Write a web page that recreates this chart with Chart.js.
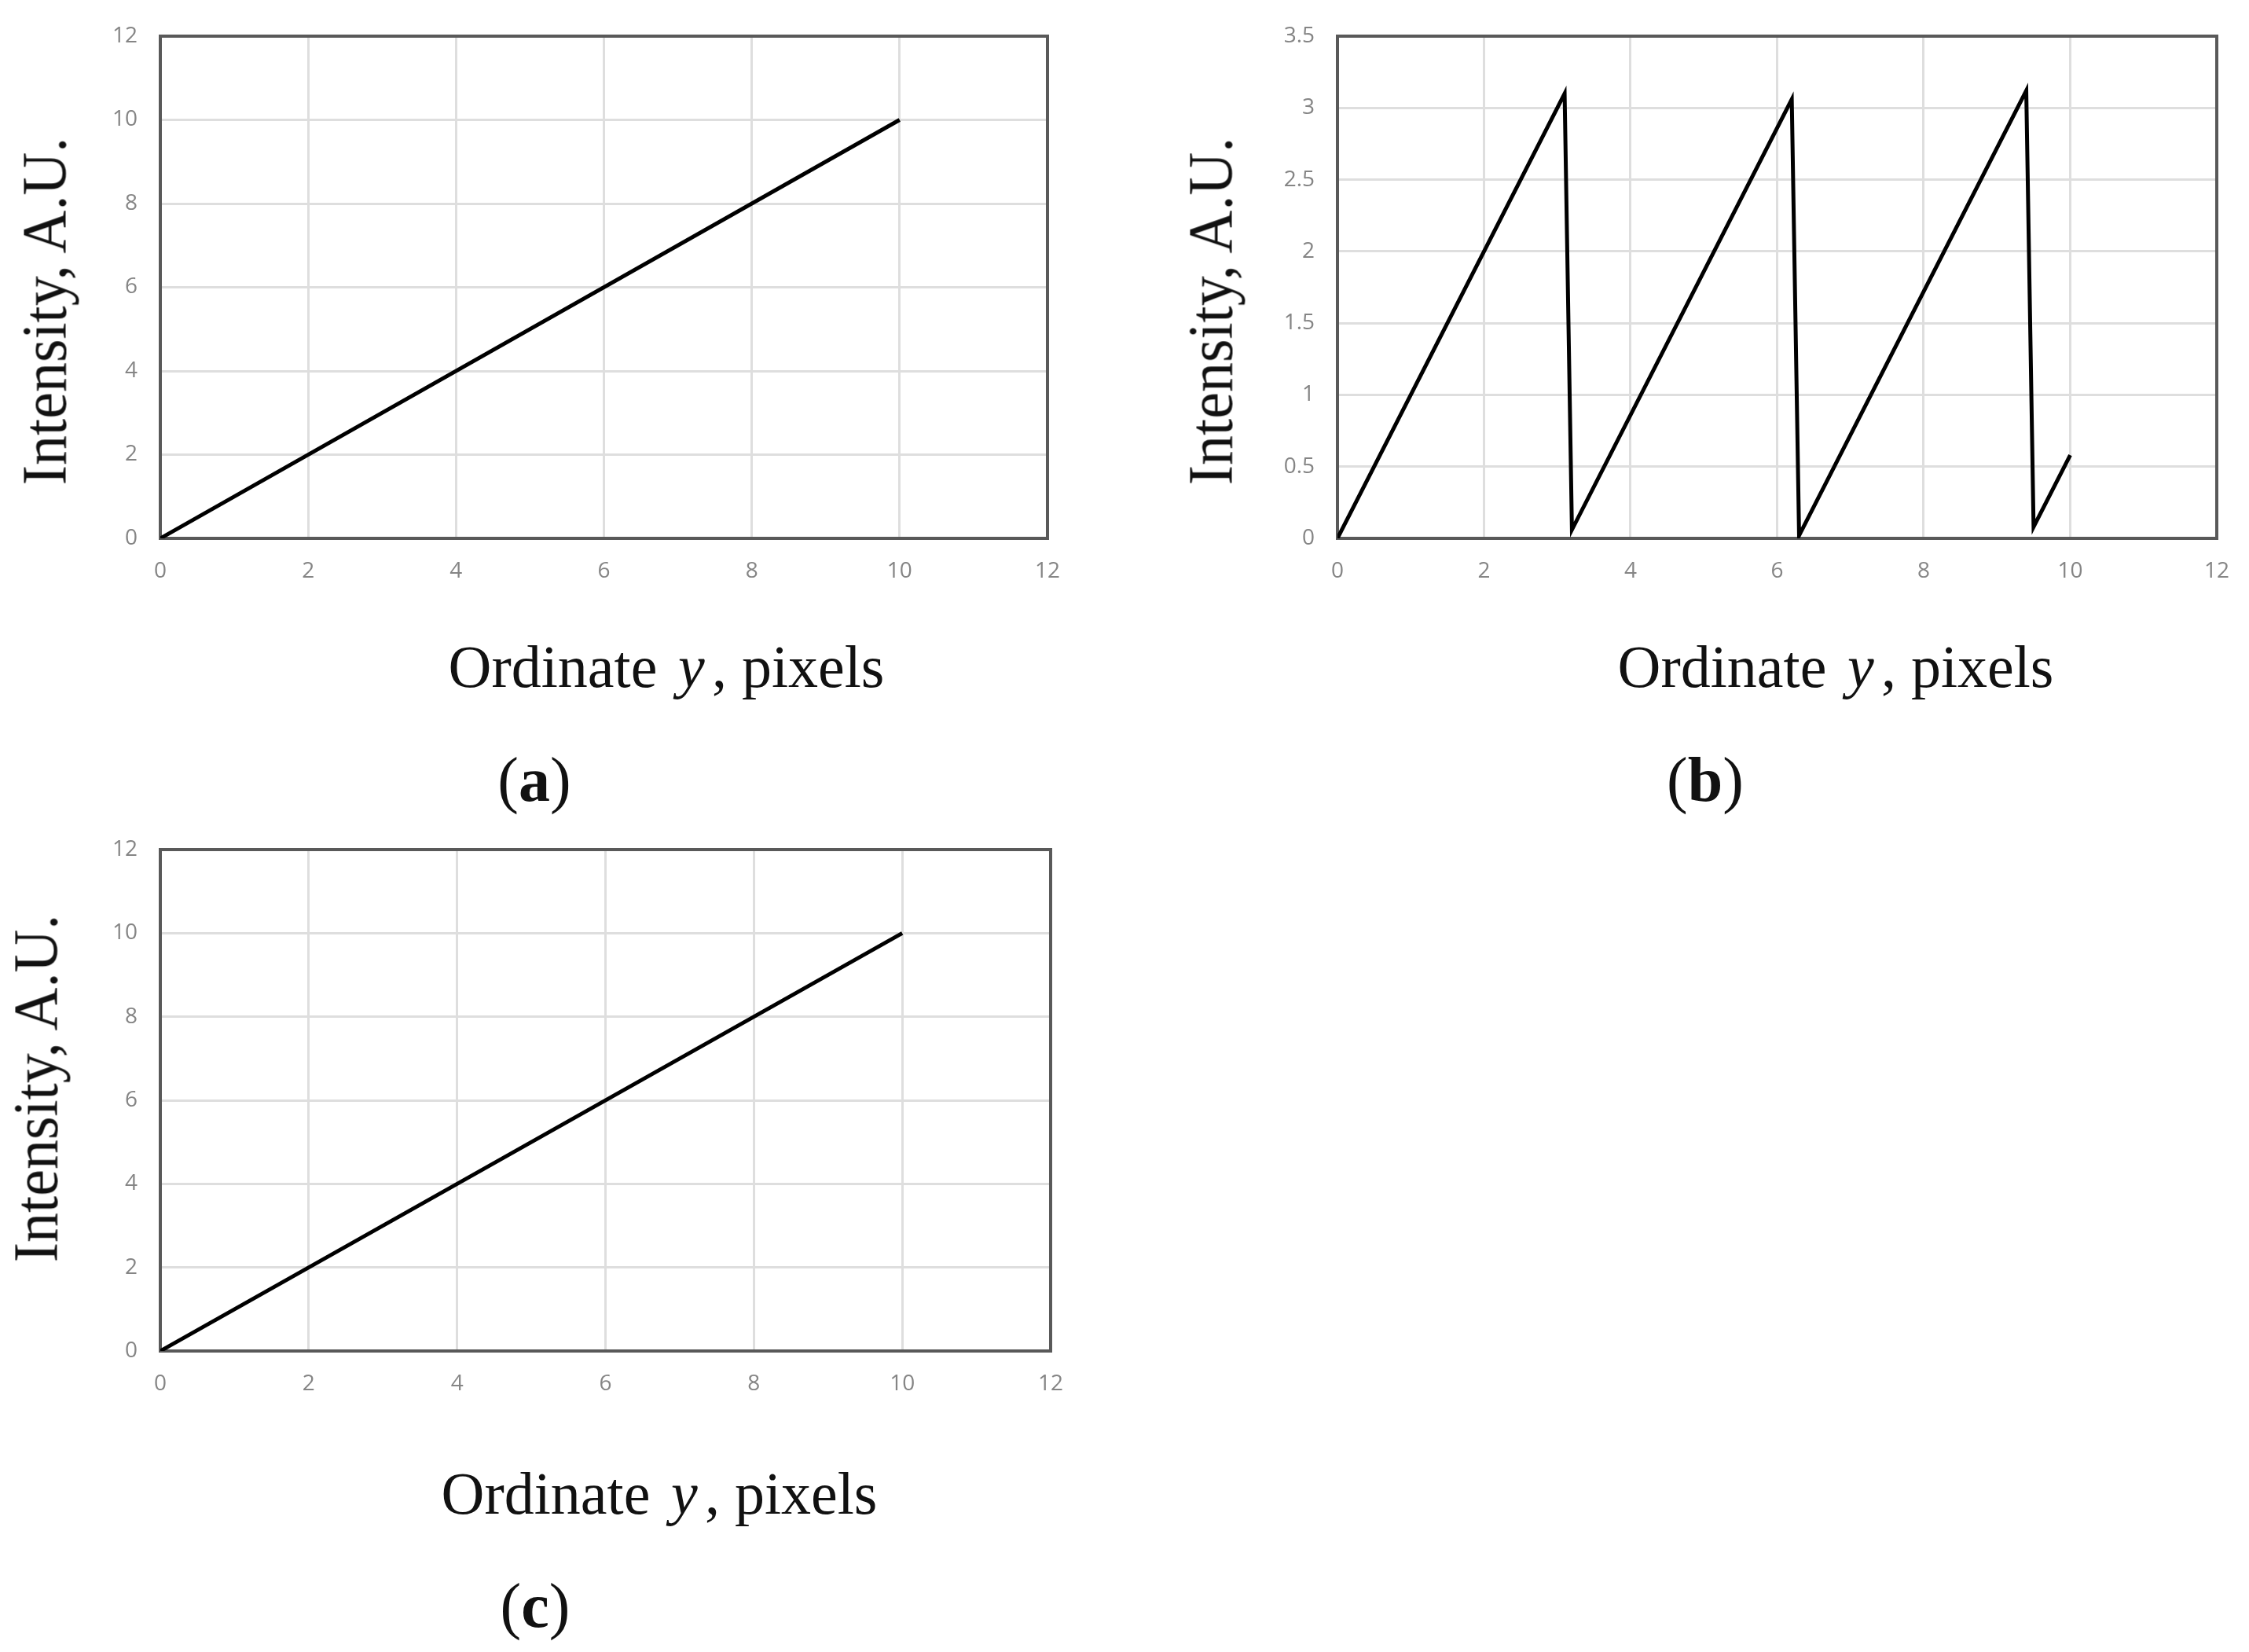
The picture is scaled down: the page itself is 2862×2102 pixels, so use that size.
<!doctype html>
<html>

<head>
    <title>Intensity vs ordinate y</title>
    <script src="https://cdn.jsdelivr.net/npm/chart.js@4.4.1/dist/chart.umd.min.js"></script>
    <style>
    body {
        margin: 0;
        background: #fff;
        width: 2862px;
        height: 2102px;
        position: relative;
        overflow: hidden;
    }
    .box {
        position: absolute;
    }
    .txt {
        position: absolute;
        font-family: "Liberation Serif", "DejaVu Serif", serif;
        font-size: 76px;
        line-height: 1;
        white-space: nowrap;
        color: #111;
    }
    .txt i {
        margin: 0 0.12em 0 0.1em;
    }
    .ytitle {
        transform: translate(-50%, -50%) rotate(-90deg) scaleY(1.06);
    }
    .xtitle {
        transform: translate(-50%, -50%);
    }
    .panel {
        transform: translate(-50%, -50%);
        font-size: 80px;
    }
    </style>
</head>

<body>
    <div class="box" style="left:0px; top:0px;"><canvas id="chartA" width="1374" height="765"></canvas></div>
    <div class="box" style="left:1498px; top:0px;"><canvas id="chartB" width="1364" height="765"></canvas></div>
    <div class="box" style="left:0px; top:1035px;"><canvas id="chartC" width="1378" height="764"></canvas></div>

    <div class="txt ytitle" style="left:56px; top:396px;">Intensity, A.U.</div>
    <div class="txt xtitle" style="left:848px; top:848px;">Ordinate <i>y</i>, pixels</div>
    <div class="txt panel" style="left:680px; top:992px;">(<b>a</b>)</div>

    <div class="txt ytitle" style="left:1540px; top:396px;">Intensity, A.U.</div>
    <div class="txt xtitle" style="left:2336px; top:848px;">Ordinate <i>y</i>, pixels</div>
    <div class="txt panel" style="left:2170px; top:992px;">(<b>b</b>)</div>

    <div class="txt ytitle" style="left:45px; top:1385px;">Intensity, A.U.</div>
    <div class="txt xtitle" style="left:839px; top:1900px;">Ordinate <i>y</i>, pixels</div>
    <div class="txt panel" style="left:681px; top:2043px;">(<b>c</b>)</div>

    <script>
        // (a) and (c): straight line
        var xA = [0, 10];
        var yA = [0, 10];
        // (b): sawtooth
        var xB = [0, 3.1, 3.2, 6.2, 6.3, 9.4, 9.5, 10];
        var yB = [0, 3.1, 0.06, 3.06, 0.02, 3.12, 0.08, 0.58];
        var xC = [0, 10];
        var yC = [0, 10];

        var xTicks = [0, 2, 4, 6, 8, 10, 12];
        var yTicksA = [0, 2, 4, 6, 8, 10, 12];
        var yTicksB = [0, 0.5, 1, 1.5, 2, 2.5, 3, 3.5];

        var tickFont = { family: '"Open Sans", "DejaVu Sans", sans-serif', size: 28 };
        var tickColor = '#858585';

        // dark frame round the plot area, like the spreadsheet chart
        var framePlugin = {
            id: 'frame',
            beforeDatasetsDraw: function(chart) {
                var a = chart.chartArea;
                var c = chart.ctx;
                c.save();
                c.strokeStyle = '#595959';
                c.lineWidth = 4;
                c.strokeRect(a.left, a.top, a.right - a.left, a.bottom - a.top);
                c.restore();
            }
        };

        function toPoints(xs, ys) {
            return xs.map(function(x, i) {
                return { x: x, y: ys[i] };
            });
        }

        function makeChart(id, xs, ys, yTicks, padRight) {
            var ctx = document.getElementById(id).getContext('2d');
            return new Chart(ctx, {
                type: 'scatter',
                data: {
                    datasets: [{
                        data: toPoints(xs, ys),
                        showLine: true,
                        borderColor: '#000',
                        borderWidth: 5,
                        pointRadius: 0,
                        fill: false,
                        tension: 0
                    }]
                },
                options: {
                    responsive: false,
                    devicePixelRatio: 1,
                    animation: false,
                    layout: {
                        padding: { top: 46, right: padRight, left: 0, bottom: 0 }
                    },
                    plugins: {
                        legend: { display: false },
                        tooltip: { enabled: false }
                    },
                    scales: {
                        x: {
                            type: 'linear',
                            min: xTicks[0],
                            max: xTicks[xTicks.length - 1],
                            afterBuildTicks: function(s) {
                                s.ticks = xTicks.map(function(v) { return { value: v }; });
                            },
                            afterFit: function(s) { s.height = 80; },
                            border: { display: false },
                            grid: { color: '#dedede', lineWidth: 3, drawTicks: false },
                            ticks: {
                                font: tickFont,
                                color: tickColor,
                                padding: 25,
                                maxRotation: 0,
                                callback: function(v) { return String(v); }
                            }
                        },
                        y: {
                            type: 'linear',
                            min: yTicks[0],
                            max: yTicks[yTicks.length - 1],
                            afterBuildTicks: function(s) {
                                s.ticks = yTicks.map(function(v) { return { value: v }; });
                            },
                            afterFit: function(s) { s.width = 204; },
                            border: { display: false },
                            grid: { color: '#dedede', lineWidth: 3, drawTicks: false },
                            ticks: {
                                font: tickFont,
                                color: tickColor,
                                padding: 29,
                                callback: function(v) { return String(v); }
                            }
                        }
                    }
                },
                plugins: [framePlugin]
            });
        }

        window.onload = function() {
            window.chartA = makeChart('chartA', xA, yA, yTicksA, 40);
            window.chartB = makeChart('chartB', xB, yB, yTicksB, 40);
            window.chartC = makeChart('chartC', xC, yC, yTicksA, 40);
        };
    </script>
</body>

</html>
